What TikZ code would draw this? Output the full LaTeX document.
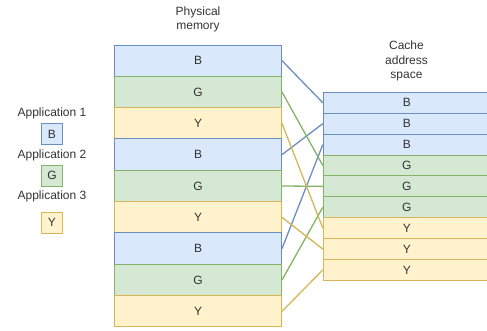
\documentclass[tikz,border=0pt]{standalone}
\usepackage{fontspec}
\setmainfont{Liberation Sans}
\definecolor{bfill}{HTML}{DAE8FC}\definecolor{bline}{HTML}{6C8EBF}
\definecolor{gfill}{HTML}{D5E8D4}\definecolor{gline}{HTML}{82B366}
\definecolor{yfill}{HTML}{FFF2CC}\definecolor{yline}{HTML}{D6B656}
\definecolor{txt}{HTML}{333333}
\tikzset{
  cell/.style={draw, line width=1pt, inner sep=0pt, minimum width=167pt, text=txt},
  pcell/.style={cell, minimum height=31.33pt},
  ccell/.style={cell, minimum height=20.9pt},
  lbox/.style={draw, line width=1pt, inner sep=0pt, minimum width=21.4pt, minimum height=21pt, text=txt},
  blue/.style={fill=bfill, draw=bline},
  green/.style={fill=gfill, draw=gline},
  yellow/.style={fill=yfill, draw=yline},
  bwire/.style={draw=bline, line width=1.3pt},
  gwire/.style={draw=gline, line width=1.3pt},
  ywire/.style={draw=yline, line width=1.3pt},
  caption/.style={text=txt, align=center, font=\fontsize{12}{14.5}\selectfont},
}
\begin{document}
\begin{tikzpicture}[x=1pt, y=-1pt, font=\fontsize{12}{14}\selectfont]
\useasboundingbox (0,0) rectangle (487,330);
\begin{scope}
\clip (0,0) rectangle (487,330);
% physical memory rows
\foreach \i/\t/\s in {0/B/blue,1/G/green,2/Y/yellow,3/B/blue,4/G/green,5/Y/yellow,6/B/blue,7/G/green,8/Y/yellow}
  \node[pcell, \s] (p\i) at (198, {45+31.33*(\i+0.5)}) {\t};
% cache rows (running off the right edge)
\foreach \i/\t/\s in {0/B/blue,1/B/blue,2/B/blue,3/G/green,4/G/green,5/G/green,6/Y/yellow,7/Y/yellow,8/Y/yellow}
  \node[ccell, \s] (c\i) at (406.8, {92.3+20.9*(\i+0.5)}) {\t};
% mapping of each memory row to its cache row
\draw[bwire] (p0.east) -- (c0.west);
\draw[bwire] (p3.east) -- (c1.west);
\draw[bwire] (p6.east) -- (c2.west);
\draw[gwire] (p1.east) -- (c3.west);
\draw[gwire] (p4.east) -- (c4.west);
\draw[gwire] (p7.east) -- (c5.west);
\draw[ywire] (p2.east) -- (c6.west);
\draw[ywire] (p5.east) -- (c7.west);
\draw[ywire] (p8.east) -- (c8.west);
\end{scope}
% column titles
\node[caption] (ptitle) at (198, 19.5) {Physical\\memory};
\node[caption] (ctitle) at (406.5, 61) {Cache\\address\\space};
% legend
\node[text=txt] (a1) at (52, 113.3) {Application 1};
\node[lbox, blue] (l1) at (52, 134) {B};
\node[text=txt] (a2) at (52, 155) {Application 2};
\node[lbox, green] (l2) at (52, 175.8) {G};
\node[text=txt] (a3) at (52, 196.7) {Application 3};
\node[lbox, yellow] (l3) at (52, 222.8) {Y};
\end{tikzpicture}
\end{document}
